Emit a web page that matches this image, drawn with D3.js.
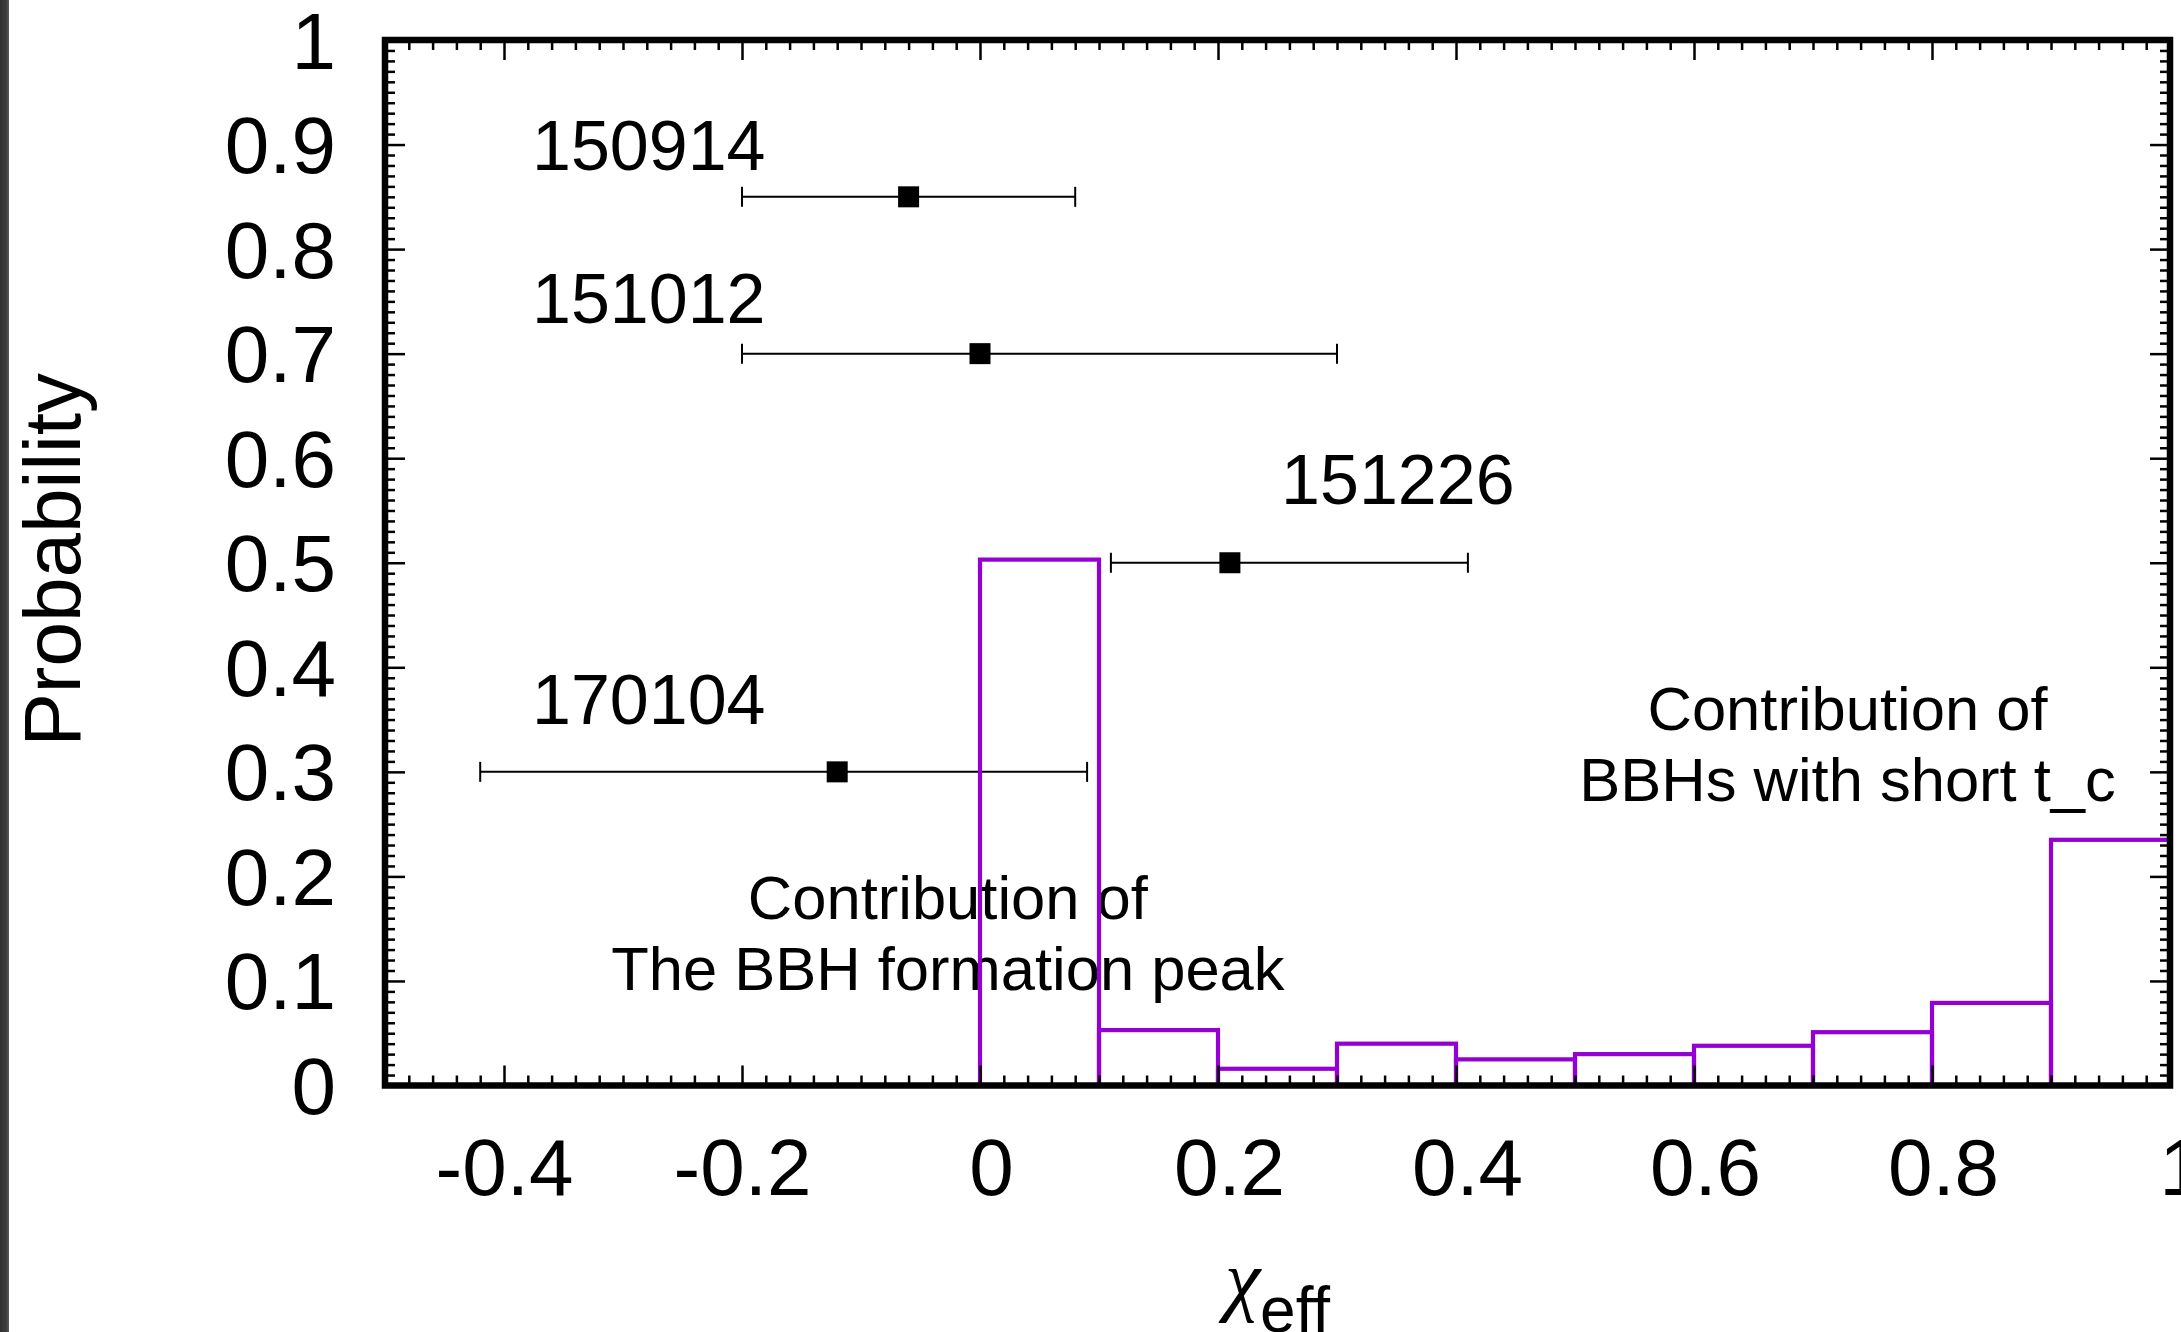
<!DOCTYPE html>
<html>
<head>
<meta charset="utf-8">
<script src="https://cdn.jsdelivr.net/npm/d3@7"></script>
<style>
  html, body { margin: 0; padding: 0; background: #fff; overflow: hidden; }
  svg { display: block; }
  text { font-family: "Liberation Sans", Arial, Helvetica, sans-serif; fill: #000; }
</style>
</head>
<body>
<svg id="chart" width="2181" height="1332"></svg>
<script>
// Binned effective-spin probability (bin edges and probability per bin)
const binEdges = [0, 0.1, 0.2, 0.3, 0.4, 0.5, 0.6, 0.7, 0.8, 0.9, 1.0];
const binProb  = [0.503, 0.053, 0.016, 0.040, 0.025, 0.030, 0.038, 0.051, 0.079, 0.235];

// Observed events: chi_eff median with credible interval, plotted at a fixed row height
const events    = ["150914", "151012", "151226", "170104"];
const chiMedian = [-0.06, 0.00, 0.21, -0.12];
const chiLower  = [-0.20, -0.20, 0.11, -0.42];
const chiUpper  = [0.08, 0.30, 0.41, 0.09];
const eventRow  = [0.85, 0.70, 0.50, 0.30];
const eventLabelX = [-0.3765, -0.3765, 0.253, -0.3765];
const eventLabelY = [0.90, 0.753, 0.58, 0.37];

// Annotations (data-space anchor of first line, centred)
const noteLines = [["Contribution of", "The BBH formation peak"],
                   ["Contribution of", "BBHs with short t_c"]];
const noteX = [-0.027, 0.729];
const noteY = [0.159, 0.340];

// Axis ticks
const xTicks = [-0.4, -0.2, 0, 0.2, 0.4, 0.6, 0.8, 1];
const xTickLabels = ["-0.4", "-0.2", "0", "0.2", "0.4", "0.6", "0.8", "1"];
const yTicks = [0, 0.1, 0.2, 0.3, 0.4, 0.5, 0.6, 0.7, 0.8, 0.9, 1];
const yTickLabels = ["0", "0.1", "0.2", "0.3", "0.4", "0.5", "0.6", "0.7", "0.8", "0.9", "1"];
const xDomain = [-0.5, 1];
const yDomain = [0, 1];

const svg = d3.select("#chart");
const plot = { left: 385, right: 2170, top: 40, bottom: 1085.5 };

const x = d3.scaleLinear().domain(xDomain).range([plot.left, plot.right]);
const y = d3.scaleLinear().domain(yDomain).range([plot.bottom, plot.top]);

// window edge strip
const defs = svg.append("defs");
const grad = defs.append("linearGradient").attr("id", "edge").attr("x1", 0).attr("x2", 1);
grad.append("stop").attr("offset", 0).attr("stop-color", "#2f2f2f");
grad.append("stop").attr("offset", 0.7).attr("stop-color", "#3d3d3d");
grad.append("stop").attr("offset", 1).attr("stop-color", "#5a5a5a");
svg.append("rect").attr("x", 0).attr("y", 0).attr("width", 9).attr("height", 1332)
  .attr("fill", "url(#edge)");

// Annotation text
noteLines.forEach((lines, i) => {
  const t = svg.append("text")
    .attr("x", x(noteX[i])).attr("y", y(noteY[i]))
    .attr("text-anchor", "middle")
    .attr("font-size", 61.5);
  lines.forEach((ln, j) => {
    t.append("tspan").attr("x", x(noteX[i])).attr("dy", j === 0 ? 0 : 71).text(ln);
  });
});

// Event labels
svg.append("g").selectAll("text").data(events).join("text")
  .attr("x", (d, i) => x(eventLabelX[i]))
  .attr("y", (d, i) => y(eventLabelY[i]))
  .attr("dy", "0.36em")
  .attr("font-size", 70)
  .text(d => d);

// Error bars
const eb = svg.append("g").attr("stroke", "#000").attr("stroke-width", 2);
events.forEach((e, i) => {
  const yy = y(eventRow[i]);
  eb.append("line").attr("x1", x(chiLower[i])).attr("x2", x(chiUpper[i]))
    .attr("y1", yy).attr("y2", yy);
  [chiLower[i], chiUpper[i]].forEach(v => {
    eb.append("line").attr("x1", x(v)).attr("x2", x(v))
      .attr("y1", yy - 10).attr("y2", yy + 10);
  });
});
svg.append("g").selectAll("rect").data(events).join("rect")
  .attr("x", (d, i) => x(chiMedian[i]) - 10.5)
  .attr("y", (d, i) => y(eventRow[i]) - 10.5)
  .attr("width", 21).attr("height", 21)
  .attr("fill", "#000");

// Histogram boxes
svg.append("g").selectAll("rect").data(binProb).join("rect")
  .attr("x", (d, i) => x(binEdges[i]))
  .attr("y", d => y(d))
  .attr("width", (d, i) => x(binEdges[i + 1]) - x(binEdges[i]))
  .attr("height", d => y(0) - y(d))
  .attr("fill", "none")
  .attr("stroke", "#9400d3")
  .attr("stroke-width", 4.2);

// Axes: ticks point inward on all four sides
const minorX = d3.range(0, 76).map(i => -0.5 + i * 0.02).filter(v => Math.abs(Math.round(v * 5) - v * 5) > 1e-6);
const minorY = d3.range(0, 101).map(i => i * 0.01).filter(v => Math.abs(Math.round(v * 10) - v * 10) > 1e-6);

function styleAxis(g) {
  g.select(".domain").remove();
  g.attr("font-family", null).attr("font-size", 80);
  g.selectAll(".tick line").attr("stroke", "#000").attr("stroke-width", 2.5);
}

// bottom (non-negative labels carry a sign-width offset, as with a "% g" format)
svg.append("g").attr("transform", `translate(0,${plot.bottom})`)
  .call(d3.axisBottom(x).tickValues(xTicks).tickSize(-20).tickPadding(53)
    .tickFormat((d, i) => xTickLabels[i]))
  .call(styleAxis)
  .call(g => g.selectAll("text").attr("dx", d => d >= 0 ? 11 : 0));
svg.append("g").attr("transform", `translate(0,${plot.bottom})`)
  .call(d3.axisBottom(x).tickValues(minorX).tickSize(-10).tickFormat(""))
  .call(styleAxis);
// top
svg.append("g").attr("transform", `translate(0,${plot.top})`)
  .call(d3.axisTop(x).tickValues(xTicks).tickSize(-20).tickFormat(""))
  .call(styleAxis);
svg.append("g").attr("transform", `translate(0,${plot.top})`)
  .call(d3.axisTop(x).tickValues(minorX).tickSize(-10).tickFormat(""))
  .call(styleAxis);
// left
svg.append("g").attr("transform", `translate(${plot.left},0)`)
  .call(d3.axisLeft(y).tickValues(yTicks).tickSize(-20).tickPadding(49)
    .tickFormat((d, i) => yTickLabels[i]))
  .call(styleAxis)
  .call(g => g.selectAll("text").attr("dy", "0.35em"));
svg.append("g").attr("transform", `translate(${plot.left},0)`)
  .call(d3.axisLeft(y).tickValues(minorY).tickSize(-10).tickFormat(""))
  .call(styleAxis);
// right
svg.append("g").attr("transform", `translate(${plot.right},0)`)
  .call(d3.axisRight(y).tickValues(yTicks).tickSize(-20).tickFormat(""))
  .call(styleAxis);
svg.append("g").attr("transform", `translate(${plot.right},0)`)
  .call(d3.axisRight(y).tickValues(minorY).tickSize(-10).tickFormat(""))
  .call(styleAxis);

// Frame
svg.append("rect")
  .attr("x", plot.left).attr("y", plot.top)
  .attr("width", plot.right - plot.left).attr("height", plot.bottom - plot.top)
  .attr("fill", "none").attr("stroke", "#000").attr("stroke-width", 6.5);

// Axis titles
svg.append("text")
  .attr("transform", `translate(80,${(plot.top + plot.bottom) / 2 - 3}) rotate(-90)`)
  .attr("text-anchor", "middle").attr("font-size", 80)
  .text("Probability");

const xt = svg.append("text")
  .attr("x", (plot.left + plot.right) / 2).attr("y", 1306)
  .attr("text-anchor", "middle").attr("font-size", 80);
xt.append("tspan").style("font-family", "'Liberation Serif', serif").style("font-style", "italic").text("χ");
xt.append("tspan").attr("font-size", 64).attr("dy", 26).text("eff");
</script>
</body>
</html>
